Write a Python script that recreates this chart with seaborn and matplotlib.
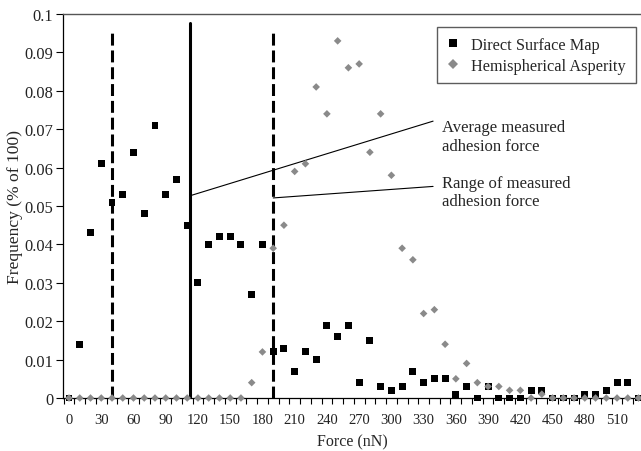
import numpy as np
import pandas as pd
import matplotlib
matplotlib.use("Agg")
import matplotlib.pyplot as plt
import seaborn as sns

# ---- data ----
force = list(range(0, 540, 10))  # 0..530 nN
direct_surface = [0, 0.014, 0.043, 0.061, 0.051, 0.053, 0.064, 0.048, 0.071, 0.053,
                  0.057, 0.045, 0.030, 0.040, 0.042, 0.042, 0.040, 0.027, 0.040, 0.012,
                  0.013, 0.007, 0.012, 0.010, 0.019, 0.016, 0.019, 0.004, 0.015, 0.003,
                  0.002, 0.003, 0.007, 0.004, 0.005, 0.005, 0.001, 0.003, 0.0, 0.003,
                  0.0, 0.0, 0.0, 0.002, 0.002, 0.0, 0.0, 0.0, 0.001, 0.001,
                  0.002, 0.004, 0.004, 0.0]
hemispherical = [0, 0, 0, 0, 0, 0, 0, 0, 0, 0,
                 0, 0, 0, 0, 0, 0, 0, 0.004, 0.012, 0.039,
                 0.045, 0.059, 0.061, 0.081, 0.074, 0.093, 0.086, 0.087, 0.064, 0.074,
                 0.058, 0.039, 0.036, 0.022, 0.023, 0.014, 0.005, 0.009, 0.004, 0.003,
                 0.003, 0.002, 0.002, 0.0, 0.001, 0.0, 0.0, 0.0, 0.0, 0.0,
                 0.0, 0.0, 0.0, 0.0]
series_names = ["Direct Surface Map", "Hemispherical Asperity"]
xtick_values = list(range(0, 540, 30))
ytick_values = [0, 0.01, 0.02, 0.03, 0.04, 0.05, 0.06, 0.07, 0.08, 0.09, 0.1]
ytick_labels = ["0", "0.01", "0.02", "0.03", "0.04", "0.05", "0.06", "0.07", "0.08", "0.09", "0.1"]
range_low, range_high = 40, 190       # range of measured adhesion force
avg_force = 113                        # average measured adhesion force
avg_label = "Average measured\nadhesion force"
range_label = "Range of measured\nadhesion force"

df = pd.DataFrame({
    "Force": force * 2,
    "Frequency": direct_surface + hemispherical,
    "Series": [series_names[0]] * len(force) + [series_names[1]] * len(force),
})

sns.set_theme(style="ticks")
plt.rcParams["font.family"] = ["Liberation Serif", "DejaVu Serif"]
plt.rcParams["font.size"] = 12

fig = plt.figure(figsize=(6.41, 4.52), dpi=100)
W, H = 641, 452
ax = fig.add_axes([63 / W, 1 - 399 / H, (641 - 63) / W, (399 - 15) / H])

# vertical reference lines (behind markers)
dash = (3.9, 1.6)
ax.plot([range_low, range_low], [0, 0.0962], color="black", lw=2.2, dashes=dash, zorder=1)
ax.plot([range_high, range_high], [0, 0.0955], color="black", lw=2.2, dashes=dash, zorder=1)
ax.plot([avg_force, avg_force], [0, 0.0977], color="black", lw=2.2, zorder=1)

sns.scatterplot(data=df, x="Force", y="Frequency", hue="Series", style="Series",
                size="Series",
                sizes={series_names[0]: 25, series_names[1]: 15},
                palette={series_names[0]: "black", series_names[1]: "#8a8a8a"},
                markers={series_names[0]: "s", series_names[1]: "D"},
                linewidth=0, ax=ax, zorder=3, clip_on=False)

# annotation lines and text
ax.plot([avg_force, 338.8], [0.0527, 0.0721], color="black", lw=0.8, zorder=2)
ax.plot([range_high, 338.8], [0.0521, 0.0551], color="black", lw=0.8, zorder=2)
ax.text(347, 0.0681, avg_label, ha="left", va="center", fontsize=12, linespacing=1.2)
ax.text(347, 0.0537, range_label, ha="left", va="center", fontsize=12, linespacing=1.2)

ax.set_xlim(-5.6, 532.3)
ax.set_ylim(0, 0.1)
ax.set_xticks(xtick_values)
ax.set_xticklabels([str(v) for v in xtick_values])
ax.set_xticks([v + 5 for v in range(-10, 530, 10)], minor=True)
ax.tick_params(axis="x", which="major", length=0, pad=11, labelsize=10.5, colors="#222222")
ax.tick_params(axis="x", which="minor", length=4, width=0.8, direction="out", color="black")
ax.set_yticks(ytick_values)
ax.set_yticklabels(ytick_labels)
ax.tick_params(axis="y", which="major", length=5, width=0.8, pad=2, labelsize=11.8,
               labelcolor="#222222", color="black")

ax.set_xlabel("Force (nN)", fontsize=11.5, labelpad=5)
ax.set_ylabel("Frequency (% of 100)", fontsize=12.6, labelpad=1)

for side in ["left", "bottom"]:
    ax.spines[side].set_color("black")
    ax.spines[side].set_linewidth(0.9)
ax.spines["top"].set_visible(True)
ax.spines["top"].set_color("#555555")
ax.spines["top"].set_linewidth(1.0)
ax.spines["right"].set_visible(False)

leg = ax.legend(loc="upper left", bbox_to_anchor=((437 - 63) / 578, (399 - 28) / 384),
                borderaxespad=0, frameon=True, fancybox=False, edgecolor="#333333",
                fontsize=11.7, markerscale=1.2, handletextpad=0.7, borderpad=0.6,
                labelspacing=0.3, handlelength=0.8, title=None)
leg.get_frame().set_linewidth(1.0)

fig.savefig("out.png", dpi=100)
